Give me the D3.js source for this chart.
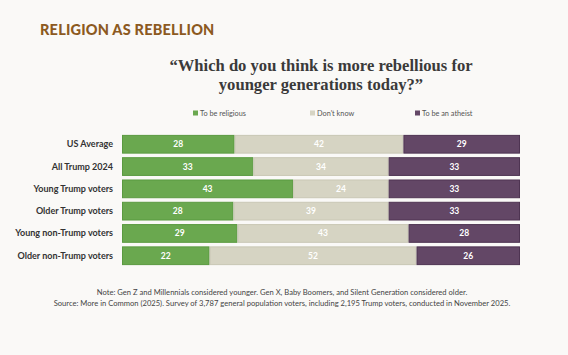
<!DOCTYPE html>
<html><head><meta charset="utf-8">
<script src="https://cdn.jsdelivr.net/npm/d3@7"></script>
<style>body{margin:0;background:#faf9f7;}svg{display:block;}</style>
</head><body><svg id="c" width="568" height="355"></svg>
<script>
const categories = ["US Average","All Trump 2024","Young Trump voters","Older Trump voters","Young non-Trump voters","Older non-Trump voters"];
const seriesNames = ["To be religious","Don't know","To be an atheist"];
const religious = [28,33,43,28,29,22];
const dontKnow = [42,34,24,39,43,52];
const atheist = [29,33,33,33,28,26];
const colors = ["#6aa84f","#d6d4c3","#634766"];
const strokes = ["#5a9a40","#c9c7b5","#4e3452"];

const rows = categories.map((c,i)=>({cat:c,"To be religious":religious[i],"Don't know":dontKnow[i],"To be an atheist":atheist[i]}));
const stack = d3.stack().keys(seriesNames).offset(d3.stackOffsetExpand)(rows);

const svg = d3.select("#c");
svg.append("rect").attr("width",568).attr("height",355).attr("fill","#faf9f7");

svg.append("text").attr("x",40).attr("y",35).text("RELIGION AS REBELLION")
  .attr("font-family","Lato, 'Open Sans', sans-serif").attr("font-weight",900).attr("font-size",14.5)
  .attr("fill","#8c5a1f").attr("letter-spacing",0.2);

const sub = svg.append("text").attr("text-anchor","middle").attr("font-family","'Liberation Serif', serif")
  .attr("font-weight","bold").attr("font-size",16.6).attr("fill","#3a3a3a");
sub.append("tspan").attr("x",321).attr("y",71).text("\u201CWhich do you think is more rebellious for");
sub.append("tspan").attr("x",321).attr("y",90).text("younger generations today?\u201D");

const x = d3.scaleLinear().domain([0,1]).range([122,520]);
const y = d3.scaleBand().domain(categories).range([134,266]).paddingInner(0.16).paddingOuter(0.04);

// legend
const legX = [193,310,415];
seriesNames.forEach((s,i)=>{
  const g = svg.append("g").attr("transform",`translate(${legX[i]},113)`);
  g.append("rect").attr("x",0).attr("y",-2.5).attr("width",5).attr("height",5).attr("fill",colors[i]);
  g.append("text").attr("x",7).attr("y",2.5).text(s).attr("font-family","Lato, sans-serif")
    .attr("font-size",7.3).attr("fill","#555");
});

stack.forEach((layer,li)=>{
  const g = svg.append("g");
  g.selectAll("rect").data(layer).join("rect")
    .attr("x",d=>x(d[0])+0.5).attr("y",d=>y(d.data.cat)+0.5)
    .attr("width",d=>x(d[1])-x(d[0])-1).attr("height",y.bandwidth()-1)
    .attr("fill",colors[li]).attr("stroke",strokes[li]).attr("stroke-width",1);
  g.selectAll("text").data(layer).join("text")
    .attr("x",d=>(x(d[0])+x(d[1]))/2).attr("y",d=>y(d.data.cat)+y.bandwidth()/2+3)
    .attr("text-anchor","middle").text(d=>d.data[seriesNames[li]])
    .attr("font-family","Lato, sans-serif").attr("font-weight","bold").attr("font-size",8.5).attr("fill","#fff");
});

svg.append("g").selectAll("text").data(categories).join("text")
  .attr("x",113).attr("y",d=>y(d)+y.bandwidth()/2+3).attr("text-anchor","end").text(d=>d)
  .attr("font-family","Lato, sans-serif").attr("font-weight","bold").attr("font-size",9).attr("fill","#333");

const notes = ["Note: Gen Z and Millennials considered younger. Gen X, Baby Boomers, and Silent Generation considered older.",
 "Source: More in Common (2025). Survey of 3,787 general population voters, including 2,195 Trump voters, conducted in November 2025."];
svg.append("g").selectAll("text").data(notes).join("text")
  .attr("x",282).attr("y",(d,i)=>295+i*10.5).attr("text-anchor","middle").text(d=>d)
  .attr("font-family","Lato, sans-serif").attr("font-size",7.6).attr("fill","#444");
</script></body></html>
